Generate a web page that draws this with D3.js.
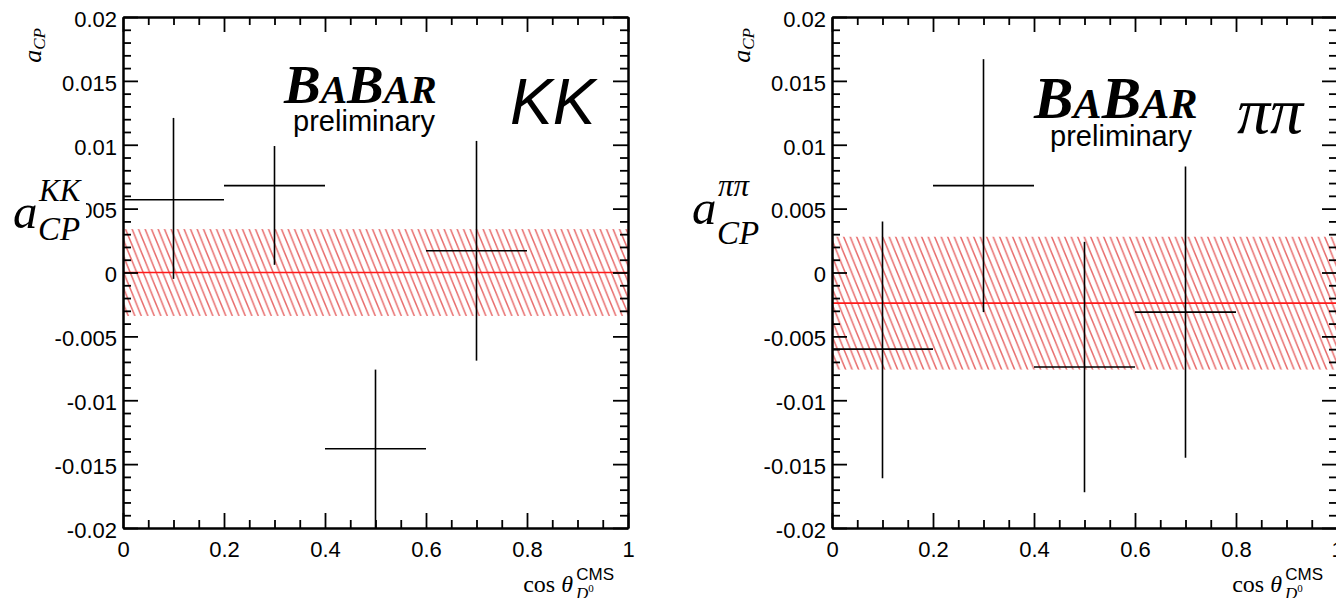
<!DOCTYPE html>
<html><head><meta charset="utf-8">
<script src="https://cdn.jsdelivr.net/npm/d3@7"></script>
<style>body{margin:0;background:#fff}svg{display:block}</style>
</head><body>
<script>
// ---- data ----
const binLow = [0, 0.2, 0.4, 0.6];
const binHigh = [0.2, 0.4, 0.6, 0.8];
const binCenter = [0.1, 0.3, 0.5, 0.7];
const kkValue = [0.0057, 0.0068, -0.0138, 0.0017];
const kkErrUp = [0.0064, 0.0031, 0.0062, 0.0086];
const kkErrDown = [0.0062, 0.0062, 0.0066, 0.0086];
const kkFit = 0.0;
const kkFitErr = 0.0034;
const pipiValue = [-0.0060, 0.0068, -0.0074, -0.0031];
const pipiErrUp = [0.0100, 0.0099, 0.0098, 0.0114];
const pipiErrDown = [0.0101, 0.0099, 0.0098, 0.0114];
const pipiFit = -0.0024;
const pipiFitErr = 0.0052;
const xTickValues = [0, 0.2, 0.4, 0.6, 0.8, 1];
const xTickLabels = ["0", "0.2", "0.4", "0.6", "0.8", "1"];
const yTickValues = [-0.02, -0.015, -0.01, -0.005, 0, 0.005, 0.01, 0.015, 0.02];
const yTickLabels = ["-0.02", "-0.015", "-0.01", "-0.005", "0", "0.005", "0.01", "0.015", "0.02"];

const W = 1336, H = 598;
const svg = d3.select("body").append("svg").attr("width", W).attr("height", H)
  .style("background", "#fff");

const defs = svg.append("defs");
const pat = defs.append("pattern").attr("id", "hatch").attr("patternUnits", "userSpaceOnUse")
  .attr("width", 6.5).attr("height", 16);
pat.append("path").attr("d", "M-6.5,-16L13,32M0,-16L19.5,32M-13,-16L6.5,32")
  .attr("stroke", "#e03c3c").attr("stroke-width", 1.5).attr("stroke-opacity", 0.75).attr("fill", "none");

const sans = "'Liberation Sans', Arial, Helvetica, sans-serif";
const serif = "'Liberation Serif', 'Times New Roman', serif";

const panels = [
  { left: 123, value: kkValue, up: kkErrUp, down: kkErrDown, fit: kkFit, fitErr: kkFitErr, id: "kk",
    logoX: 284, logoY: 103, logoSize: 55, prelimX: 364, prelimY: 131,
    chan: "kk", labelBox: true, labX: 13, labY: 228, supY: 201, subY: 240 },
  { left: 832, value: pipiValue, up: pipiErrUp, down: pipiErrDown, fit: pipiFit, fitErr: pipiFitErr, id: "pp",
    logoX: 1034, logoY: 118, logoSize: 59, prelimX: 1121, prelimY: 146,
    chan: "pp", labelBox: false, labX: 692, labY: 224, supY: 196, subY: 244 }
];
const plotTop = 17, plotBottom = 528, pw = 505;

const minorY = d3.range(-20, 21).map(d => d / 1000).filter(v => Math.round(v * 1000) % 5 !== 0);
const minorX = d3.range(0, 21).map(d => d / 20).filter(v => Math.round(v * 20) % 4 !== 0);

panels.forEach(p => {
  const x = d3.scaleLinear().domain([0, 1]).range([p.left, p.left + pw]);
  const y = d3.scaleLinear().domain([-0.02, 0.02]).range([plotBottom, plotTop]);
  const g = svg.append("g");

  defs.append("clipPath").attr("id", "clip-" + p.id).append("rect")
    .attr("x", p.left).attr("y", plotTop).attr("width", pw).attr("height", plotBottom - plotTop);
  const plot = g.append("g").attr("clip-path", `url(#clip-${p.id})`);

  plot.append("rect").attr("x", x(0)).attr("width", x(1) - x(0))
    .attr("y", y(p.fit + p.fitErr)).attr("height", y(p.fit - p.fitErr) - y(p.fit + p.fitErr))
    .attr("fill", "url(#hatch)");
  plot.append("line").attr("x1", x(0)).attr("x2", x(1)).attr("y1", y(p.fit)).attr("y2", y(p.fit))
    .attr("stroke", "#ff1a1a").attr("stroke-width", 1.6);

  const idx = d3.range(binCenter.length);
  plot.selectAll("line.h").data(idx).join("line").attr("class", "h")
    .attr("x1", i => x(binLow[i])).attr("x2", i => x(binHigh[i]))
    .attr("y1", i => y(p.value[i])).attr("y2", i => y(p.value[i]))
    .attr("stroke", "#000").attr("stroke-width", 1.6);
  plot.selectAll("line.v").data(idx).join("line").attr("class", "v")
    .attr("x1", i => x(binCenter[i])).attr("x2", i => x(binCenter[i]))
    .attr("y1", i => y(p.value[i] + p.up[i])).attr("y2", i => y(p.value[i] - p.down[i]))
    .attr("stroke", "#000").attr("stroke-width", 1.6);

  const style = sel => {
    sel.selectAll("path.domain").attr("stroke", "#000").attr("stroke-width", 2);
    sel.selectAll(".tick line").attr("stroke", "#000").attr("stroke-width", 1.8);
    sel.selectAll("text").attr("font-family", sans).attr("font-size", 22).attr("fill", "#000");
  };
  const yl = d3.axisLeft(y).tickValues(yTickValues).tickFormat((d, i) => yTickLabels[i])
    .tickSize(-15).tickSizeOuter(0).tickPadding(6);
  g.append("g").attr("transform", `translate(${p.left},0)`).call(yl).call(style)
    .selectAll("text").attr("dy", "0.42em");
  g.append("g").attr("transform", `translate(${p.left},0)`)
    .call(d3.axisLeft(y).tickValues(minorY).tickFormat("").tickSize(-8).tickSizeOuter(0)).call(style);
  g.append("g").attr("transform", `translate(${p.left + pw},0)`)
    .call(d3.axisRight(y).tickValues(yTickValues).tickFormat("").tickSize(-15).tickSizeOuter(0)).call(style);
  g.append("g").attr("transform", `translate(${p.left + pw},0)`)
    .call(d3.axisRight(y).tickValues(minorY).tickFormat("").tickSize(-8).tickSizeOuter(0)).call(style);

  const xb = d3.axisBottom(x).tickValues(xTickValues).tickFormat((d, i) => xTickLabels[i])
    .tickSize(-15).tickSizeOuter(0).tickPadding(13);
  g.append("g").attr("transform", `translate(0,${plotBottom})`).call(xb).call(style);
  g.append("g").attr("transform", `translate(0,${plotBottom})`)
    .call(d3.axisBottom(x).tickValues(minorX).tickFormat("").tickSize(-8).tickSizeOuter(0)).call(style);
  g.append("g").attr("transform", `translate(0,${plotTop})`)
    .call(d3.axisTop(x).tickValues(xTickValues).tickFormat("").tickSize(-15).tickSizeOuter(0)).call(style);
  g.append("g").attr("transform", `translate(0,${plotTop})`)
    .call(d3.axisTop(x).tickValues(minorX).tickFormat("").tickSize(-8).tickSizeOuter(0)).call(style);

  // y-axis title
  const yt = g.append("text").attr("transform", `translate(${p.left - 82},28) rotate(-90)`)
    .attr("text-anchor", "end").attr("font-family", serif).attr("font-style", "italic").attr("fill", "#000");
  yt.append("tspan").attr("font-size", 26).text("a");
  yt.append("tspan").attr("font-size", 17).attr("dy", 4).text("CP");

  // x-axis title
  const xr = p.left + pw - 14;
  const xt = g.append("text").attr("x", xr - 41).attr("y", 592).attr("text-anchor", "end")
    .attr("font-family", serif).attr("font-size", 24).attr("fill", "#000");
  xt.append("tspan").text("cos ");
  xt.append("tspan").attr("font-style", "italic").text("θ");
  g.append("text").attr("x", xr).attr("y", 580).attr("text-anchor", "end")
    .attr("font-family", sans).attr("font-size", 17).text("CMS");
  const dt = g.append("text").attr("x", xr - 38).attr("y", 599).attr("font-family", serif)
    .attr("font-style", "italic").attr("font-size", 17);
  dt.append("tspan").text("D");
  dt.append("tspan").attr("font-size", 11).attr("dy", -7).attr("font-style", "normal").text("0");

  // BABAR logo
  const lg = g.append("text").attr("x", p.logoX).attr("y", p.logoY).attr("font-family", serif)
    .attr("font-weight", "bold").attr("font-style", "italic").attr("fill", "#000");
  const s = p.logoSize;
  lg.append("tspan").attr("font-size", s).text("B");
  lg.append("tspan").attr("font-size", s * 0.72).text("A");
  lg.append("tspan").attr("font-size", s).text("B");
  lg.append("tspan").attr("font-size", s * 0.72).text("AR");
  g.append("text").attr("x", p.prelimX).attr("y", p.prelimY).attr("text-anchor", "middle")
    .attr("font-family", sans).attr("font-size", 29).text("preliminary");

  // channel label
  if (p.chan === "kk") {
    g.append("text").attr("x", 510).attr("y", 124).attr("font-family", sans).attr("font-style", "italic")
      .attr("font-size", 64).text("KK");
  } else {
    g.append("text").attr("x", 1237).attr("y", 133).attr("font-family", serif).attr("font-style", "italic")
      .attr("font-size", 66).text("ππ");
  }

  // big a_CP label
  if (p.labelBox) {
    g.append("rect").attr("x", 4).attr("y", 168).attr("width", 82).attr("height", 80).attr("fill", "#fff");
  }
  const sup = p.chan === "kk" ? "KK" : "ππ";
  g.append("text").attr("x", p.labX).attr("y", p.labY).attr("font-family", serif).attr("font-style", "italic")
    .attr("font-size", 49).text("a");
  g.append("text").attr("x", p.labX + 26).attr("y", p.supY).attr("font-family", serif).attr("font-style", "italic")
    .attr("font-size", 31).text(sup);
  g.append("text").attr("x", p.labX + 25).attr("y", p.subY).attr("font-family", serif).attr("font-style", "italic")
    .attr("font-size", 33).text("CP");
});
</script>
</body></html>
